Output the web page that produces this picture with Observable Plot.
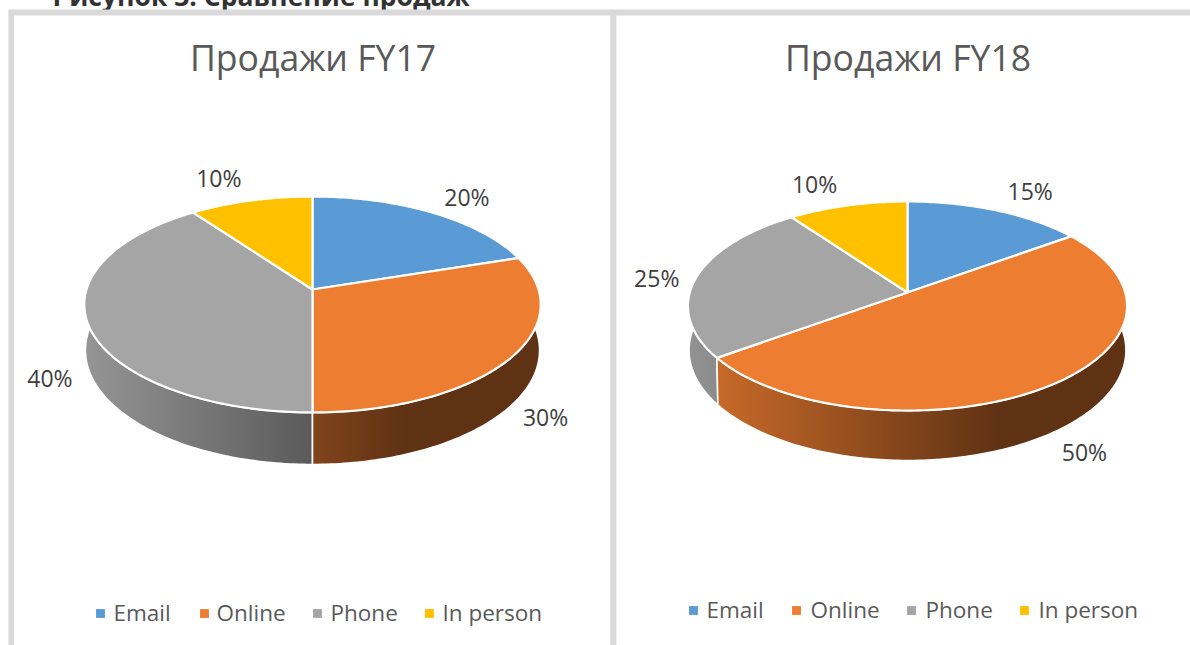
<!DOCTYPE html>
<html><head><meta charset="utf-8">
<style>html,body{margin:0;padding:0;background:#fff;overflow:hidden}svg{display:block}</style>
<script src="https://cdn.jsdelivr.net/npm/d3@7"></script>
<script src="https://cdn.jsdelivr.net/npm/@observablehq/plot@0.6"></script>
</head><body><div id="chart"></div>
<script>
const categories = ["Email", "Online", "Phone", "In person"];
const salesFY17 = [20, 30, 40, 10];
const salesFY18 = [15, 50, 25, 10];
const titles = ["Продажи FY17", "Продажи FY18"];
const caption = "Рисунок 3. Сравнение продаж";
const colors = ["#5b9bd5", "#ed7d31", "#a5a5a5", "#ffc000"];

// Layout: perspective pie geometry and label placement
const pies = [
  {key: "a", values: salesFY17, title: titles[0], titleX: 312.5, titleY: 59, cx: 312, cy: 289, a: 226, b: 105.9, k: 0.1389, depth: 44.8,
   labelOff: [[35, -14], [34, 61], [-38, 56], [-32, -21]], legendY: 613,
   swatchX: [100, 204, 317, 429], textX: [113, 216, 330, 442]},
  {key: "b", values: salesFY18, title: titles[1], titleX: 907.5, titleY: 59, cx: 907, cy: 292, a: 217.7, b: 102.8, k: 0.1292, depth: 43.5,
   labelOff: [[34, -18], [34, 68], [-40, 3], [-33, -20]], legendY: 610,
   swatchX: [693, 796, 911, 1024], textX: [706, 810, 925, 1038]}
];
const lowerScale = 0.995;

const rad = d => d * Math.PI / 180;
function rim(p, angle, lower) {
  const u = Math.sin(angle), v = -Math.cos(angle), w = 1 - p.k * v;
  return lower
    ? {x: p.cx + lowerScale * p.a * u / w, y: p.cy + (p.b * v + p.depth) / w}
    : {x: p.cx + p.a * u / w, y: p.cy + p.b * v / w};
}
function arcAngles(s, e) {
  const n = Math.max(2, Math.ceil((e - s) / rad(1)));
  return d3.range(n + 1).map(i => s + (e - s) * i / n);
}

const marks = [];
const frame = [
  {x1: 8, x2: 1190, y1: 12, y2: 12, w: 6},
  {x1: 10.75, x2: 10.75, y1: 10, y2: 645, w: 5.5},
  {x1: 612.8, x2: 612.8, y1: 10, y2: 645, w: 6}
];
marks.push(Plot.text([caption], {x: () => 52, y: () => -3, text: d => d, textAnchor: "start", fontFamily: "Open Sans", fontWeight: "bold", fontSize: 26.5, fill: "#333", lineAnchor: "middle"}));
marks.push(Plot.link(frame, {x1: "x1", x2: "x2", y1: "y1", y2: "y2", stroke: "#d9d9d9", strokeWidth: "w"}));

for (const p of pies) {
  const arcs = d3.pie().sort(null)(p.values);
  const slices = arcs.map((d, i) => ({...d, i, cat: categories[i], mid: (d.startAngle + d.endAngle) / 2}));

  // side wall gradients follow the lighting across the pie
  marks.push((index, {x}) => {
    const defs = d3.create("svg:defs");
    slices.forEach(s => {
      const c = d3.rgb(colors[s.i]);
      const g = defs.append("linearGradient").attr("id", `wall-${p.key}-${s.i}`)
        .attr("gradientUnits", "userSpaceOnUse")
        .attr("x1", x(p.cx - 228)).attr("x2", x(p.cx + 93)).attr("y1", 0).attr("y2", 0);
      [[0, 0.90], [1, 0.40]].forEach(([o, f]) =>
        g.append("stop").attr("offset", o).attr("stop-color", d3.rgb(c.r * f, c.g * f, c.b * f).formatHex()));
    });
    return defs.node();
  });

  // walls, back to front
  [...slices].sort((s, t) => -Math.cos(s.mid) - -Math.cos(t.mid)).forEach(s => {
    const ang = arcAngles(s.startAngle, s.endAngle);
    const pts = [...ang.map(a => rim(p, a, false)), ...ang.slice().reverse().map(a => rim(p, a, true))];
    pts.push(pts[0]);
    marks.push(Plot.line(pts, {x: "x", y: "y", curve: "linear", fill: `url(#wall-${p.key}-${s.i})`, stroke: "#fff", strokeWidth: 1.6, strokeLinejoin: "round"}));
  });

  // top faces
  const tops = slices.flatMap(s => {
    const c = {x: p.cx, y: p.cy, cat: s.cat};
    return [c, ...arcAngles(s.startAngle, s.endAngle).map(a => ({...rim(p, a, false), cat: s.cat})), c];
  });
  marks.push(Plot.line(tops, {x: "x", y: "y", z: "cat", curve: "linear", fill: "cat", stroke: "#fff", strokeWidth: 2.2, strokeLinejoin: "round"}));

  // title
  marks.push(Plot.text([p.title], {x: () => p.titleX, y: () => p.titleY, text: d => d, fontFamily: "Open Sans", fontSize: 35.6, fill: "#595959"}));

  // percent labels
  const labels = slices.map(s => {
    const r = rim(p, s.mid, false);
    return {x: r.x + p.labelOff[s.i][0], y: r.y + p.labelOff[s.i][1], text: `${s.value}%`};
  });
  marks.push(Plot.text(labels, {x: "x", y: "y", text: "text", fontFamily: "Open Sans", fontSize: 23, fill: "#404040"}));

  // legend
  const legend = categories.map((c, i) => ({cat: c, sx: p.swatchX[i], tx: p.textX[i], y: p.legendY}));
  marks.push(Plot.dot(legend, {x: "sx", y: "y", symbol: "square", r: 5, fill: "cat", stroke: "none"}));
  marks.push(Plot.text(legend, {x: "tx", y: "y", text: "cat", textAnchor: "start", fontFamily: "Open Sans", fontSize: 22.5, fill: "#595959"}));
}

const chart = Plot.plot({
  width: 1190, height: 645, margin: 0,
  style: {background: "#fff"},
  x: {domain: [0, 1190], range: [0, 1190], axis: null},
  y: {domain: [0, 645], range: [0, 645], axis: null},
  color: {domain: categories, range: colors},
  marks
});
document.getElementById("chart").append(chart);
</script></body></html>
